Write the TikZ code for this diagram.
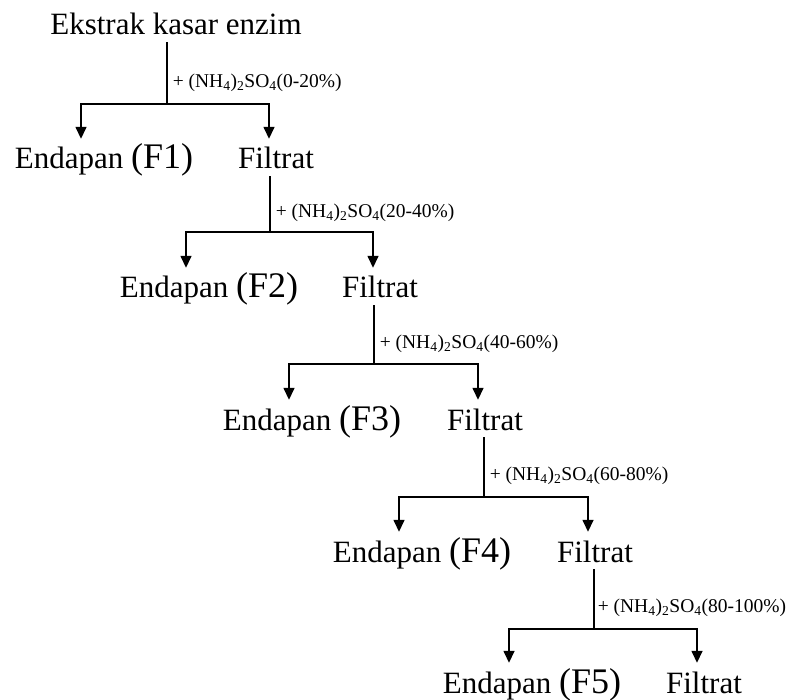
\documentclass[tikz,border=0pt]{standalone}
\usepackage{fontspec}
\setmainfont{Liberation Serif}
\usepackage{tikz}
\usetikzlibrary{positioning, arrows.meta}
\tikzset{
    teks/.style={font=\fontsize{31}{36}\selectfont, inner sep=4pt, text height=26pt, text depth=3pt, anchor=base},
    garam/.style={font=\fontsize{19.5}{24}\selectfont, inner sep=2pt, anchor=west, pos=0.65, xshift=3pt},
    alur/.style={line width=1.5pt},
    panah/.style={line width=1.5pt, -{Triangle[length=12pt, width=11pt]}},
}
\newcommand{\fraksi}[1]{{\fontsize{36}{40}\selectfont(F#1)}}
\newcommand{\amsulf}[1]{+ (NH\textsubscript{4})\textsubscript{2}SO\textsubscript{4}(#1\%)}
\begin{document}
\begin{tikzpicture}[x=1pt, y=-1pt]
    \useasboundingbox (0,0) rectangle (792,700);
    \node [teks] (ekstrak) at (176,35) {Ekstrak kasar enzim};
    \node [teks] (endapan1) at (104,169) {Endapan \fraksi{1}};
    \node [teks] (filtrat1) at (276,169) {Filtrat};
    \node [teks] (endapan2) at (209,298) {Endapan \fraksi{2}};
    \node [teks] (filtrat2) at (380,298) {Filtrat};
    \node [teks] (endapan3) at (312,430) {Endapan \fraksi{3}};
    \node [teks] (filtrat3) at (485,430) {Filtrat};
    \node [teks] (endapan4) at (422,562) {Endapan \fraksi{4}};
    \node [teks] (filtrat4) at (595,562) {Filtrat};
    \node [teks] (endapan5) at (532,693) {Endapan \fraksi{5}};
    \node [teks] (filtrat5) at (704,693) {Filtrat};
    % titik percabangan
    \coordinate (s1) at (167,104);
    \coordinate (s2) at (270,232);
    \coordinate (s3) at (374,364);
    \coordinate (s4) at (484,497);
    \coordinate (s5) at (594,629);
    % tahap 1
    \draw [alur] (ekstrak.south -| s1) -- (s1) node [garam] {\amsulf{0-20}};
    \draw [panah] (s1) -| ([xshift=-23pt]endapan1.north);
    \draw [panah] (s1) -| ([xshift=-7pt]filtrat1.north);
    % tahap 2
    \draw [alur] (filtrat1.south -| s2) -- (s2) node [garam] {\amsulf{20-40}};
    \draw [panah] (s2) -| ([xshift=-23pt]endapan2.north);
    \draw [panah] (s2) -| ([xshift=-7pt]filtrat2.north);
    % tahap 3
    \draw [alur] (filtrat2.south -| s3) -- (s3) node [garam] {\amsulf{40-60}};
    \draw [panah] (s3) -| ([xshift=-23pt]endapan3.north);
    \draw [panah] (s3) -| ([xshift=-7pt]filtrat3.north);
    % tahap 4
    \draw [alur] (filtrat3.south -| s4) -- (s4) node [garam] {\amsulf{60-80}};
    \draw [panah] (s4) -| ([xshift=-23pt]endapan4.north);
    \draw [panah] (s4) -| ([xshift=-7pt]filtrat4.north);
    % tahap 5
    \draw [alur] (filtrat4.south -| s5) -- (s5) node [garam, xshift=-2pt] {\amsulf{80-100}};
    \draw [panah] (s5) -| ([xshift=-23pt]endapan5.north);
    \draw [panah] (s5) -| ([xshift=-7pt]filtrat5.north);
\end{tikzpicture}
\end{document}
